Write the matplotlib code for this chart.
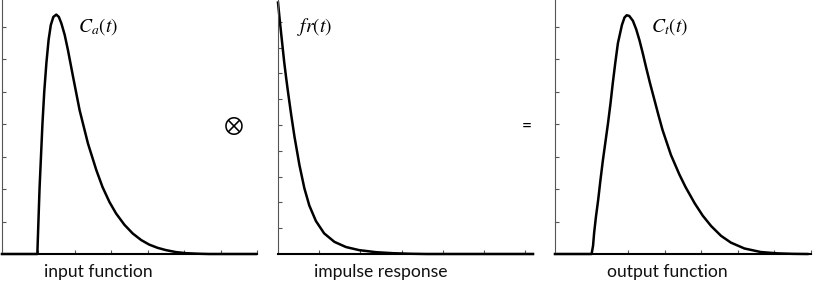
import matplotlib
matplotlib.use("Agg")
import matplotlib.pyplot as plt

plt.rcParams["mathtext.fontset"] = "stix"

# values (x in tick units, y in tick units)
ca_t = [0.0, 0.97, 1.00, 1.03, 1.07, 1.11, 1.16, 1.22, 1.28, 1.34, 1.41, 1.49,
        1.56, 1.63, 1.72, 1.81, 1.95, 2.13, 2.36, 2.59, 2.76, 2.95, 3.13, 3.36,
        3.59, 3.82, 4.04, 4.27, 4.50, 4.77, 5.05, 5.40, 5.68, 6.97]
ca_v = [0.0, 0.0, 1.0, 2.0, 3.0, 4.0, 5.0, 5.9, 6.6, 7.05, 7.30, 7.37,
        7.30, 7.10, 6.75, 6.28, 5.46, 4.43, 3.40, 2.58, 2.06, 1.60, 1.25, 0.90,
        0.63, 0.43, 0.29, 0.19, 0.12, 0.06, 0.025, 0.008, 0.0, 0.0]

fr_t = [0.0, 0.05, 0.10, 0.15, 0.20, 0.25, 0.32, 0.40, 0.52, 0.64, 0.76, 0.92,
        1.12, 1.37, 1.65, 1.97, 2.38, 2.80, 3.20, 3.60, 6.19]
fr_v = [9.75, 8.95, 8.20, 7.45, 6.80, 6.20, 5.40, 4.55, 3.45, 2.55, 1.88, 1.28,
        0.80, 0.47, 0.27, 0.15, 0.07, 0.03, 0.01, 0.0, 0.0]

ct_t = [0.0, 1.00, 1.04, 1.07, 1.12, 1.18, 1.24, 1.31, 1.38, 1.45, 1.52, 1.58,
        1.65, 1.72, 1.83, 1.90, 1.96, 2.03, 2.13, 2.22, 2.31, 2.40, 2.49, 2.60,
        2.72, 2.83, 2.94, 3.17, 3.40, 3.57, 3.82, 4.04, 4.27, 4.54, 4.81, 5.18,
        5.63, 6.08, 6.50, 6.90]
ct_v = [0.0, 0.0, 0.25, 0.65, 1.15, 1.66, 2.25, 2.89, 3.46, 4.03, 4.66, 5.26,
        5.90, 6.49, 7.05, 7.28, 7.35, 7.33, 7.18, 6.92, 6.58, 6.18, 5.75, 5.25,
        4.74, 4.27, 3.82, 3.05, 2.45, 2.06, 1.56, 1.18, 0.86, 0.56, 0.35, 0.17,
        0.06, 0.02, 0.005, 0.0]

panel_labels = ["input function", "impulse response", "output function"]
curve_labels = [r"$C_a(t)$", r"$fr(t)$", r"$C_t(t)$"]

W, H = 814, 282
fig = plt.figure(figsize=(W / 100, H / 100), dpi=100)


def px_axes(x0, x1, y0, y1):
    return fig.add_axes([x0 / W, 1 - y1 / H, (x1 - x0) / W, (y1 - y0) / H])


ax1 = px_axes(2, 257, 0, 254)
ax2 = px_axes(278, 533, 0, 254)
ax3 = px_axes(555, 811, 0, 254)

setups = [
    (ax1, ca_t, ca_v, 6.97, 7.82, range(1, 8), range(1, 8)),
    (ax2, fr_t, fr_v, 6.19, 9.85, range(1, 7), range(1, 10)),
    (ax3, ct_t, ct_v, 6.95, 7.82, range(1, 8), range(1, 8)),
]

for ax, t, v, xmax, ymax, xt, yt in setups:
    ax.plot(t, v, color="black", lw=1.8, clip_on=False,
            solid_joinstyle="round")
    ax.set_xlim(0, xmax)
    ax.set_ylim(0, ymax)
    ax.set_xticks(list(xt))
    ax.set_yticks(list(yt))
    ax.tick_params(direction="in", length=3, width=0.8, colors="#555555",
                   labelbottom=False, labelleft=False)
    for s in ["top", "right"]:
        ax.spines[s].set_visible(False)
    ax.spines["left"].set_color("#555555")
    ax.spines["left"].set_linewidth(0.8)
    ax.spines["bottom"].set_color("black")
    ax.spines["bottom"].set_linewidth(1.5)
    ax.patch.set_alpha(0)

# curve names
for (x, y), lab in zip([(98, 27), (315, 27), (670, 27)], curve_labels):
    fig.text(x / W, 1 - y / H, lab, fontsize=14, ha="center", va="center")

# panel captions
for x, lab in zip([98, 381, 667], panel_labels):
    fig.text(x / W, 1 - 277 / H, lab, fontsize=12.6, family="Lato",
             ha="center", va="baseline", color="#111111")

# operators between panels
fig.text(233 / W, 1 - 125 / H, r"$\otimes$", fontsize=17,
         ha="center", va="center")
fig.text(527 / W, 1 - 126 / H, "=", fontsize=12.6, family="Lato",
         ha="center", va="center")

fig.savefig("out.png", dpi=100)
